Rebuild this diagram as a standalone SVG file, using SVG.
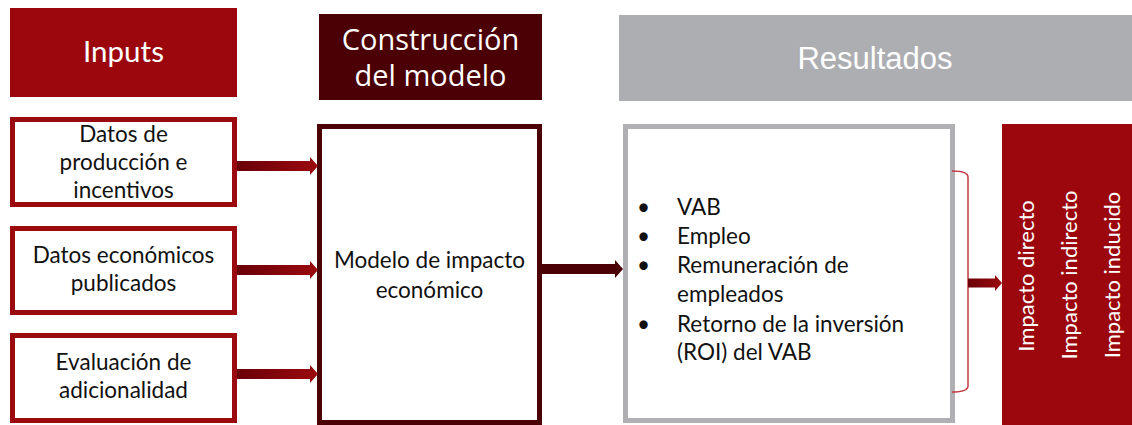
<svg xmlns="http://www.w3.org/2000/svg" width="1132" height="425" viewBox="0 0 1132 425">
<style>
.hdr{font-family:Lato,"Liberation Sans",sans-serif;fill:#fff;text-anchor:middle}
.body{font-family:Lato,"Liberation Sans",sans-serif;fill:#111;font-size:22.5px}
.mid{text-anchor:middle}
.inbox{fill:#fff;stroke:#9b0a0e;stroke-width:5}
.vt{font-family:Lato,"Liberation Sans",sans-serif;fill:#fff;font-size:22px;text-anchor:middle}
</style>
<defs>
<linearGradient id="gRed" x1="0" y1="0" x2="1" y2="0">
<stop offset="0" stop-color="#6a0008"/>
<stop offset="1" stop-color="#9b0a0e"/>
</linearGradient>
</defs>
<rect width="1132" height="425" fill="#fff"/>

<g id="hdr-inputs">
<rect x="10" y="8" width="227" height="89" fill="#9b070d"/>
<text class="hdr" x="123.5" y="62" font-size="29.5">Inputs</text>
</g>
<g id="hdr-construccion">
<rect x="319" y="14" width="223" height="86" fill="#4a0004"/>
<text x="430.5" y="50" font-family="Open Sans, Lato, sans-serif" font-size="29" fill="#fff" text-anchor="middle">Construcción</text>
<text x="430.5" y="86" font-family="Open Sans, Lato, sans-serif" font-size="29" fill="#fff" text-anchor="middle">del modelo</text>
</g>
<g id="hdr-resultados">
<rect x="619" y="15" width="513" height="86" fill="#adaeb2"/>
<text x="875" y="69" font-family="Liberation Sans, Arial, sans-serif" font-size="31" fill="#fff" text-anchor="middle">Resultados</text>
</g>

<g id="in-datos-produccion">
<rect class="inbox" x="12.5" y="119.5" width="222" height="85"/>
<text class="body mid" x="123.5" y="142">Datos de</text>
<text class="body mid" x="123.5" y="170">producción e</text>
<text class="body mid" x="123.5" y="198">incentivos</text>
</g>
<g id="in-datos-economicos">
<rect class="inbox" x="12.5" y="228.5" width="222" height="84"/>
<text class="body mid" x="123.5" y="263">Datos económicos</text>
<text class="body mid" x="123.5" y="291">publicados</text>
</g>
<g id="in-evaluacion">
<rect class="inbox" x="12.5" y="335.5" width="222" height="85"/>
<text class="body mid" x="123.5" y="370">Evaluación de</text>
<text class="body mid" x="123.5" y="398">adicionalidad</text>
</g>

<g id="modelo">
<rect x="319.5" y="126.5" width="220" height="296" fill="#fff" stroke="#4a0004" stroke-width="5"/>
<text class="body mid" x="429.5" y="268">Modelo de impacto</text>
<text class="body mid" x="429.5" y="298">económico</text>
</g>

<g id="resultados">
<rect x="625.5" y="126.5" width="327" height="294" fill="#fff" stroke="#b0b0b4" stroke-width="5"/>
<g class="body">
<text x="637" y="215">•</text><text x="677" y="215">VAB</text>
<text x="637" y="244">•</text><text x="677" y="244">Empleo</text>
<text x="637" y="273">•</text><text x="677" y="273">Remuneración de</text>
<text x="677" y="302">empleados</text>
<text x="637" y="332">•</text><text x="677" y="332">Retorno de la inversión</text>
<text x="677" y="360">(ROI) del VAB</text>
</g>
</g>

<g id="impactos">
<rect x="1002" y="124" width="130" height="301" fill="#9b070d"/>
<text class="vt" transform="translate(1034,276) rotate(-90)">Impacto directo</text>
<text class="vt" transform="translate(1077,275) rotate(-90)">Impacto indirecto</text>
<text class="vt" transform="translate(1120,275) rotate(-90)">Impacto inducido</text>
</g>

<g id="connectors">
<path d="M237 161 H310 V157 L318 166 L310 175 V171 H237 Z" fill="url(#gRed)"/>
<path d="M237 265 H310 V261 L318 270 L310 279 V275 H237 Z" fill="url(#gRed)"/>
<path d="M237 369 H310 V365 L318 374 L310 383 V379 H237 Z" fill="url(#gRed)"/>
<path d="M542 264 H615 V260 L623 269 L615 278 V274 H542 Z" fill="#4a0004"/>
<path d="M952 171 Q968 171 968 177 V386 Q968 392 952 392" fill="none" stroke="#c0393f" stroke-width="1.5"/>
<path d="M968 278.5 H995 V275 L1002 283 L995 291 V287.5 H968 Z" fill="url(#gRed)"/>
</g>
</svg>
